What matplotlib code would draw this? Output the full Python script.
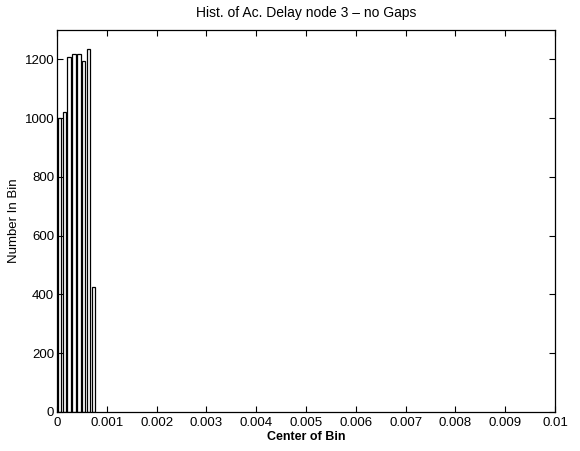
import matplotlib
matplotlib.use("Agg")
import matplotlib.pyplot as plt
import numpy as np

plt.rcParams['font.family'] = ['Liberation Sans', 'DejaVu Sans']

bin_spacing = 0.0000975
bin_centers = [0.0000488, 0.0001463, 0.0002438, 0.0003413, 0.0004388, 0.0005363, 0.0006338, 0.0007313]
counts = [1000, 1020, 1207, 1218, 1218, 1195, 1237, 425]
x_ticks = [0, 0.001, 0.002, 0.003, 0.004, 0.005, 0.006, 0.007, 0.008, 0.009, 0.01]
x_tick_labels = ['0', '0.001', '0.002', '0.003', '0.004', '0.005', '0.006', '0.007', '0.008', '0.009', '0.01']
y_ticks = [0, 200, 400, 600, 800, 1000, 1200]

fig = plt.figure(figsize=(5.8, 4.51), dpi=100)
ax = fig.add_axes([57 / 580, 1 - 412 / 451, 498 / 580, 382 / 451])
ax.bar(bin_centers, counts, width=bin_spacing * 0.7, color='white', edgecolor='black', linewidth=0.9)
ax.set_xlim(0, 0.01)
ax.set_ylim(0, 1300)
ax.set_xticks(x_ticks)
ax.set_xticklabels(x_tick_labels)
ax.set_yticks(y_ticks)
ax.tick_params(direction='in', top=True, right=True, labelsize=9.5, length=4, width=0.8)
ax.tick_params(axis='y', pad=2)
for s in ax.spines.values():
    s.set_linewidth(0.9)
fig.text(306 / 580, 1 - 13 / 451, 'Hist. of Ac. Delay node 3 \u2013 no Gaps', fontsize=10,
         ha='center', va='center')
ax.set_xlabel('Center of Bin', fontsize=9, fontweight='bold', labelpad=1.5)
ax.set_ylabel('Number In Bin', fontsize=9.5, labelpad=3)
fig.savefig('out.png', dpi=100)
